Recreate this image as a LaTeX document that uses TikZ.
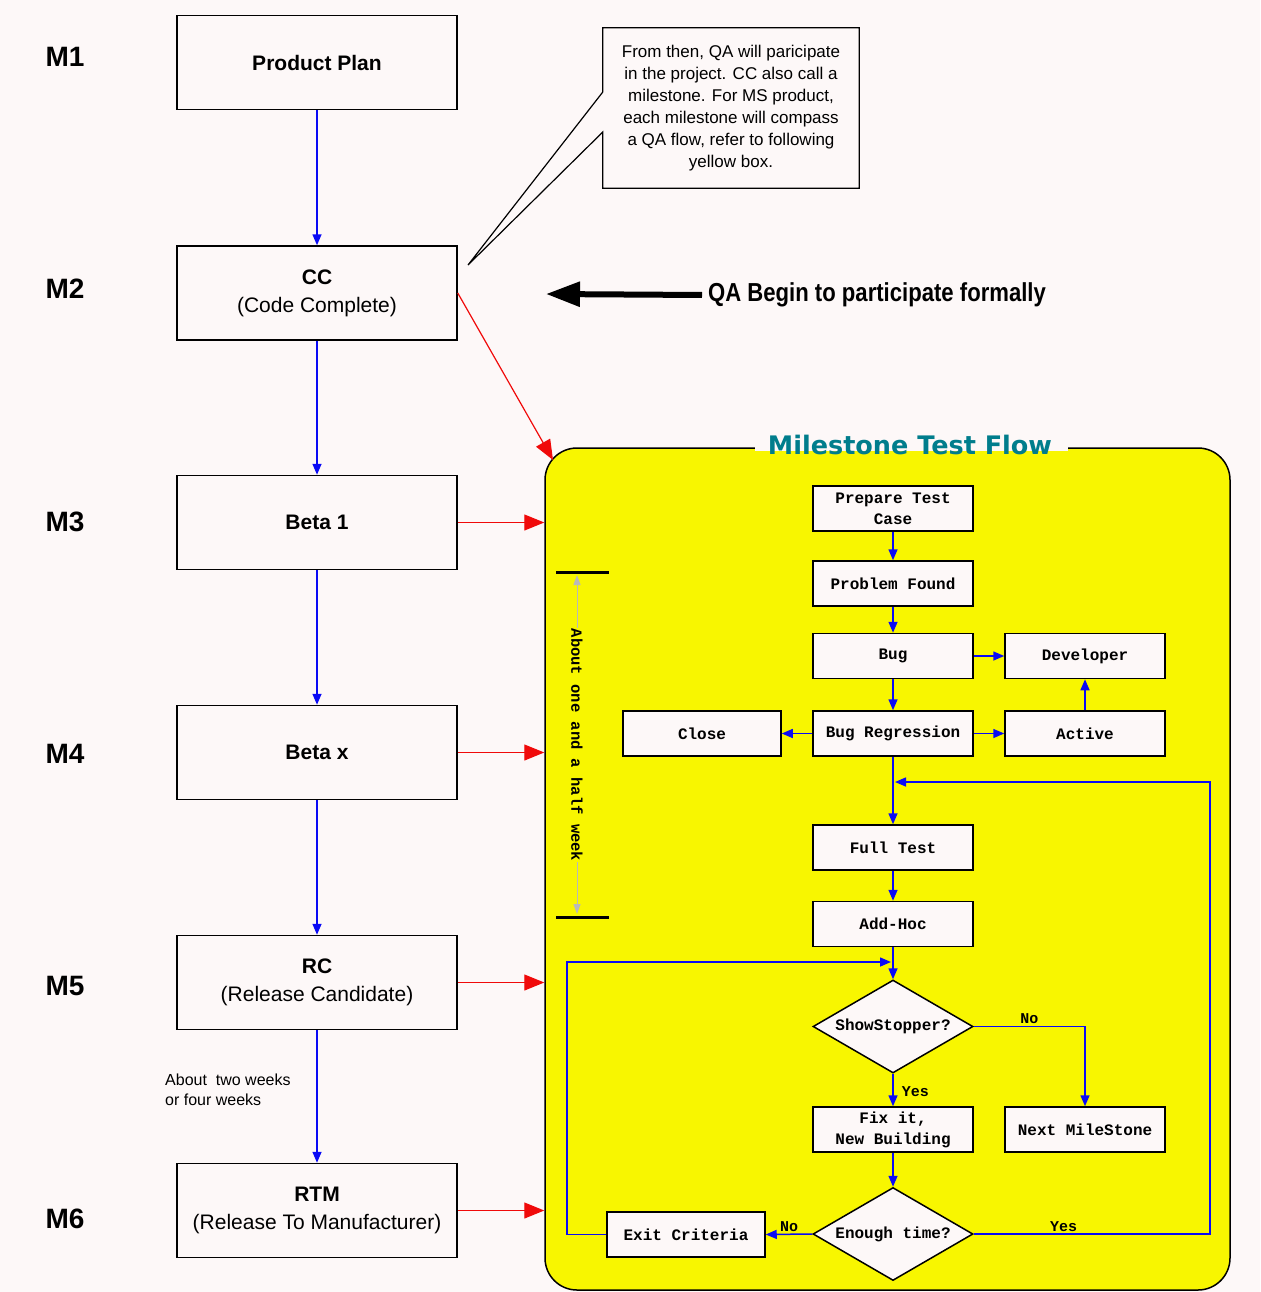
\documentclass[tikz,border=0pt]{standalone}
\usepackage{fontspec}
\setmainfont{Liberation Sans}
\newfontfamily\monof{Liberation Mono}
\newfontfamily\djv{DejaVu Sans}
\usetikzlibrary{arrows.meta,shapes.geometric,calc}
\definecolor{bg}{RGB}{253,248,248}
\definecolor{ylw}{RGB}{248,246,0}
\definecolor{bl}{RGB}{10,10,245}
\definecolor{rd}{RGB}{240,10,10}
\definecolor{tealt}{RGB}{0,125,140}
\begin{document}
\begin{tikzpicture}[x=1pt,y=-1pt,
  mbox/.style={draw=black, line width=1.5pt, fill=bg, minimum width=280pt, minimum height=94pt, align=center, inner sep=0pt, font=\fontsize{21}{28}\selectfont},
  mlabel/.style={font=\bfseries\fontsize{28}{30}\selectfont},
  fbox/.style={draw=black, line width=1.5pt, fill=bg, minimum width=160pt, minimum height=45pt, align=center, inner sep=0pt, font=\monof\bfseries\fontsize{16}{21}\selectfont},
  dbox/.style={fbox, shape=diamond, minimum width=160pt, minimum height=93pt, aspect=1.72},
  flbl/.style={font=\monof\bfseries\fontsize{15}{18}\selectfont, inner sep=2pt},
  barrow/.style={draw=bl, line width=1.5pt, -{Triangle[length=11pt,width=9pt]}},
  rarrow/.style={draw=rd, line width=1.2pt, -{Triangle[length=20pt,width=16pt]}}
]
\useasboundingbox[fill=bg] (0,0) rectangle (1260,1292);

% milestone labels
\node[mlabel] (m1) at (65,57) {M1};
\node[mlabel] (m2) at (65,289) {M2};
\node[mlabel] (m3) at (65,522) {M3};
\node[mlabel] (m4) at (65,754) {M4};
\node[mlabel] (m5) at (65,986) {M5};
\node[mlabel] (m6) at (65,1219) {M6};

% milestone boxes
\node[mbox] (pp) at (317,62.5) {\textbf{Product Plan}};
\node[mbox] (cc) at (317,293) {\textbf{CC}\\(Code Complete)};
\node[mbox] (b1) at (317,522.5) {\textbf{Beta 1}};
\node[mbox] (bx) at (317,752.5) {\textbf{Beta x}};
\node[mbox] (rc) at (317,982.5) {\textbf{RC}\\(Release Candidate)};
\node[mbox] (rtm) at (317,1210.5) {\textbf{RTM}\\(Release To Manufacturer)};

\draw[barrow] (pp) -- (cc);
\draw[barrow] (cc) -- (b1);
\draw[barrow] (b1) -- (bx);
\draw[barrow] (bx) -- (rc);
\draw[barrow] (rc) -- (rtm);
\node[anchor=north west, align=left, inner sep=0pt, font=\fontsize{16}{20}\selectfont] (tw) at (165,1074) {About \ two weeks\\or four weeks};

% callout
\node[align=center, minimum width=256pt, minimum height=160pt, inner sep=0pt, fill=bg, font=\fontsize{17}{22}\selectfont] (cb) at (731,108)
  {From then, QA will paricipate\\in the project. CC also call a\\milestone. For MS product,\\each milestone will compass\\a QA flow, refer to following\\yellow box.};
\coordinate (tip) at (468,265);
\draw[line width=1.2pt] (cb.north west) -- (cb.north east) -- (cb.south east) -- (cb.south west) -- (cb.west |- 0,132) -- (tip) -- (cb.west |- 0,92) -- cycle;

% QA begin
\node[anchor=west, inner sep=0pt, xscale=0.85, font=\bfseries\fontsize{26}{28}\selectfont] (qa) at (708,295) {QA Begin to participate formally};
\coordinate (qatip) at (546,294);
\draw[line width=6pt, -{Triangle[length=34pt,width=24pt]}] (qa.west) ++(-6,0) -- (qatip);

% yellow flow box
\node[draw=black, line width=1.5pt, fill=ylw, rounded corners=32pt, minimum width=685pt, minimum height=842pt, inner sep=0pt] (flow) at (887.5,869) {};
\fill[bg] (755,443) rectangle (1068,451);
\node[font=\djv\bfseries\fontsize{25.5}{28}\selectfont, text=tealt, inner sep=0pt] (title) at (910,445) {Milestone Test Flow};

% red arrows
\coordinate (ccend) at (553,460);
\draw[rarrow] (cc.east) -- (ccend);
\draw[rarrow] (b1.east) -- (b1.east -| flow.west);
\draw[rarrow] (bx.east) -- (bx.east -| flow.west);
\draw[rarrow] (rc.east) -- (rc.east -| flow.west);
\draw[rarrow] (rtm.east) -- (rtm.east -| flow.west);

% bracket
\draw[line width=3pt] (556,572) -- (609,572);
\draw[line width=3pt] (556,917) -- (609,917);
\coordinate (bt) at (577,575);
\coordinate (bb) at (577,914);
\draw[gray!55, line width=1pt, {Triangle[length=10pt,width=7pt]}-{Triangle[length=10pt,width=7pt]}] (bt) -- (bb);
\node[rotate=-90, fill=ylw, inner sep=1pt, font=\monof\bfseries\fontsize{15.5}{18}\selectfont] (wk) at (577,745) {About one and a half week};

% flow nodes
\node[fbox] (pt) at (893,508.5) {Prepare Test\\Case};
\node[fbox] (pf) at (893,583.5) {Problem Found};
\node[fbox] (bug) at (893,656) {Bug};
\node[fbox] (dev) at (1085,656) {Developer};
\node[fbox, minimum width=158pt] (cl) at (702,733.5) {Close};
\node[fbox] (br) at (893,733.5) {Bug Regression};
\node[fbox] (ac) at (1085,733.5) {Active};
\node[fbox] (ft) at (893,847.5) {Full Test};
\node[fbox] (ah) at (893,924) {Add-Hoc};
\node[dbox] (ss) at (893,1026.5) {ShowStopper?};
\node[fbox] (fx) at (893,1129.5) {Fix it,\\New Building};
\node[fbox] (nm) at (1085,1129.5) {Next MileStone};
\node[dbox] (et) at (893,1234) {Enough time?};
\node[fbox, minimum width=158pt] (ec) at (686,1234.5) {Exit Criteria};

\coordinate (mj) at (895,782);
\coordinate (yr) at (1210,782);
\coordinate (lj) at (891,962);
\coordinate (ll) at (567,962);

\draw[barrow] (pt) -- (pf);
\draw[barrow] (pf) -- (bug);
\draw[barrow] (bug) -- (dev);
\draw[barrow] (bug) -- (br);
\draw[barrow] (ac) -- (dev);
\draw[barrow] (br) -- (cl);
\draw[barrow] (br) -- (ac);
\draw[barrow] (br) -- (ft);
\draw[barrow] (ft) -- (ah);
\draw[barrow] (ah) -- (ss);
\draw[barrow] (ss) -- node[flbl, right, pos=0.55, xshift=6pt] {Yes} (fx);
\draw[barrow] (ss.east) -| node[flbl, above, pos=0.25] {No} (nm.north);
\draw[barrow] (fx) -- (et);
\draw[barrow] (et.west) -- node[flbl, above] {No} (ec.east);
\draw[barrow] (et.east) -| node[flbl, above, pos=0.19] {Yes} (yr) -- (mj);
\draw[barrow] (ec.west) -| (ll) -- (lj);
\end{tikzpicture}
\end{document}
